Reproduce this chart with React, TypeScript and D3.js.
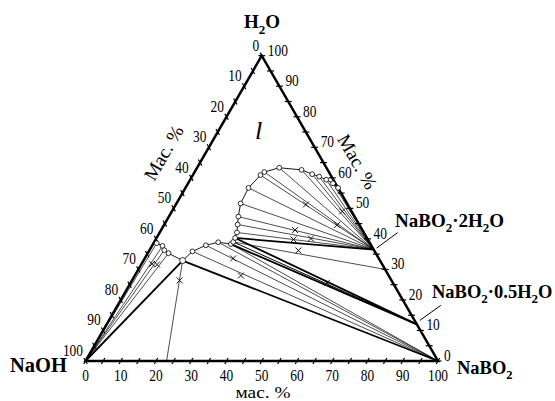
import React from 'react';
import * as d3 from 'd3';

// compositions are [NaBO2 %, H2O %]; NaOH is the rest
const liquidus: [number, number][] = [
  [0.9, 38.6], [3.0, 37.7], [4.2, 36.3], [5.9, 35.3], [11.1, 32.9],
  [12.4, 35.9], [15.2, 37.9], [18.2, 38.9], [22.1, 38.3], [22.4, 39.0],
  [22.3, 40.3], [21.9, 42.1], [20.8, 44.7], [19.7, 47.3], [18.2, 51.6],
  [17.9, 56.7], [19.2, 60.9], [19.8, 61.9], [23.3, 63.3], [30.0, 62.6],
  [33.7, 61.2], [36.1, 60.4], [38.6, 59.4], [41.1, 58.2], [43.3, 56.7],
];

const solidNaOH: [number, number] = [0, 0];
const solidNaBO2: [number, number] = [100, 0];
const solidDihydrate: [number, number] = [63.5, 36.5];
const solidHemihydrate: [number, number] = [88, 12];

const tiesNaOH = [0, 1, 2, 3];
const tiesNaBO2 = [5, 6, 7, 8];
const tiesHemi = [9];
const tiesDi = [11, 12, 13, 14, 15, 16, 17, 18, 19, 20, 21, 22, 23];
const boldTies: [number, [number, number]][] = [
  [4, solidNaOH],
  [4, solidNaBO2],
  [8, solidHemihydrate],
  [10, solidHemihydrate],
  [10, solidDihydrate],
];
const extraTies: [number, [number, number]][] = [
  [4, [23, 0]],
  [9, [70, 30]],
];

const residues: [number, number][] = [
  [3.0, 31.8], [4.5, 31.6], [13.5, 26.4], [25.1, 33.6], [30.1, 28.0],
  [55.7, 25.6], [36.9, 51.3], [48.3, 49.0], [49.1, 44.6], [38.0, 42.9],
  [39.1, 39.8], [43.9, 40.1], [42.3, 36.2],
];

const axisTicks = d3.range(0, 101, 5);
const axisLabels = d3.range(0, 101, 10);

const font = '"Liberation Serif", "Times New Roman", serif';

const x = d3.scaleLinear().domain([0, 100]).range([85.5, 438]);
const y = d3.scaleLinear().domain([0, 100]).range([361, 55.7]);
const proj = ([a, w]: [number, number]): [number, number] => [x(a + w / 2), y(w)];

export default function App() {
  const line = d3.line();
  const curve = line(liquidus.map(proj)) as string;

  const tie = (from: [number, number], to: [number, number], key: string, w: number) => {
    const [x1, y1] = proj(from);
    const [x2, y2] = proj(to);
    return <line key={key} x1={x1} y1={y1} x2={x2} y2={y2} stroke="#000" strokeWidth={w} />;
  };

  const tk = 3.5;
  const sides = [
    // bottom: NaBO2 %
    { pos: (v: number) => proj([v, 0]), dir: [0.5, -0.866] },
    // right: H2O %
    { pos: (v: number) => proj([100 - v, v]), dir: [1, 0] },
    // left: NaOH %
    { pos: (v: number) => proj([0, 100 - v]), dir: [0.5, 0.866] },
  ];

  const tri = [solidNaOH, solidNaBO2, [0, 100] as [number, number]].map(proj);
  const cw = 6.7;

  return (
    <svg width={555} height={401} style={{ position: 'absolute', left: 0, top: 0, background: '#fff' }}
      fontFamily={font}>
      {/* tie lines */}
      {tiesNaOH.map((i) => tie(liquidus[i], solidNaOH, 'o' + i, 0.7))}
      {tiesNaBO2.map((i) => tie(liquidus[i], solidNaBO2, 'b' + i, 0.7))}
      {tiesHemi.map((i) => tie(liquidus[i], solidHemihydrate, 'h' + i, 1))}
      {tiesDi.map((i) => tie(liquidus[i], solidDihydrate, 'd' + i, 0.7))}
      {extraTies.map(([i, p], k) => tie(liquidus[i], p, 'e' + k, 0.7))}
      {boldTies.map(([i, p], k) => tie(liquidus[i], p, 'B' + k, 1.8))}

      {/* triangle */}
      <path d={(line(tri) as string) + 'Z'} fill="none" stroke="#000" strokeWidth={2.5} />

      {/* ticks */}
      {sides.map((s, si) =>
        axisTicks.map((v) => {
          const [px, py] = s.pos(v);
          return (
            <line key={si + '-' + v} x1={px - s.dir[0] * tk} y1={py - s.dir[1] * tk}
              x2={px + s.dir[0] * tk} y2={py + s.dir[1] * tk} stroke="#000" strokeWidth={1.2} />
          );
        })
      )}

      {/* tick labels */}
      {axisLabels.map((v) => {
        const [px] = sides[0].pos(v);
        const s = String(v);
        return (
          <text key={'lb' + v} x={px} y={381} fontSize={16} textAnchor="middle"
            textLength={s.length * cw} lengthAdjust="spacingAndGlyphs">{s}</text>
        );
      })}
      {axisLabels.map((v) => {
        const [px, py] = sides[1].pos(v);
        const s = String(v);
        return (
          <text key={'lr' + v} x={px + 6} y={py} fontSize={16}
            textLength={s.length * cw} lengthAdjust="spacingAndGlyphs">{s}</text>
        );
      })}
      {axisLabels.map((v) => {
        const [px, py] = sides[2].pos(v);
        const s = String(v);
        return (
          <text key={'ll' + v} x={px - 2.5} y={py - 5} fontSize={16} textAnchor="end"
            textLength={s.length * cw} lengthAdjust="spacingAndGlyphs">{s}</text>
        );
      })}

      {/* liquidus */}
      <path d={curve} fill="none" stroke="#000" strokeWidth={0.9} />
      {liquidus.map((p, i) => {
        const [cx, cy] = proj(p);
        return <circle key={'c' + i} cx={cx} cy={cy} r={i === 4 ? 3 : 2.4} fill="#fff" stroke="#000" strokeWidth={0.8} />;
      })}

      {/* residues */}
      {residues.map((p, i) => {
        const [cx, cy] = proj(p);
        const r = 3;
        return (
          <path key={'x' + i} d={`M${cx - r},${cy - r}L${cx + r},${cy + r}M${cx - r},${cy + r}L${cx + r},${cy - r}`}
            stroke="#000" strokeWidth={0.9} />
        );
      })}

      {/* pointers to hydrates */}
      {(() => {
        const [dx, dy] = proj(solidDihydrate);
        const [hx, hy] = proj(solidHemihydrate);
        return (
          <g stroke="#000" strokeWidth={1}>
            <line x1={dx + 3} y1={dy - 1.5} x2={dx + 24} y2={dy - 17} />
            <line x1={hx + 3} y1={hy - 4} x2={hx + 24} y2={hy - 19} />
          </g>
        );
      })()}

      {/* component names */}
      <g fontWeight="bold" fontSize={19}>
        <text x={244} y={28}>H<tspan dy={6} fontSize={13}>2</tspan><tspan dy={-6}>O</tspan></text>
        <text x={10} y={372} fontSize={20.5}>NaOH</text>
        <text x={457} y={373.5} fontSize={18.5}>NaBO<tspan dy={5} fontSize={12.5}>2</tspan></text>
        <text x={395} y={227}>NaBO<tspan dy={5} fontSize={13}>2</tspan><tspan dy={-5}>·2H</tspan><tspan dy={5} fontSize={13}>2</tspan><tspan dy={-5}>O</tspan></text>
        <text x={432} y={298} fontSize={18.5}>NaBO<tspan dy={5} fontSize={13}>2</tspan><tspan dy={-5}>·0.5H</tspan><tspan dy={5} fontSize={13}>2</tspan><tspan dy={-5}>O</tspan></text>
      </g>

      <text x={255} y={139} fontSize={26} fontStyle="italic">l</text>

      {/* axis titles */}
      <text x={263} y={398} fontSize={17} textAnchor="middle" textLength={55} lengthAdjust="spacingAndGlyphs">мас. %</text>
      <text transform="translate(164,153) rotate(-60)" fontSize={19} textAnchor="middle" dy={6}
        textLength={60} lengthAdjust="spacingAndGlyphs">Мас. %</text>
      <text transform="translate(357,162) rotate(60)" fontSize={19} textAnchor="middle" dy={6}
        textLength={60} lengthAdjust="spacingAndGlyphs">Мас. %</text>
    </svg>
  );
}
